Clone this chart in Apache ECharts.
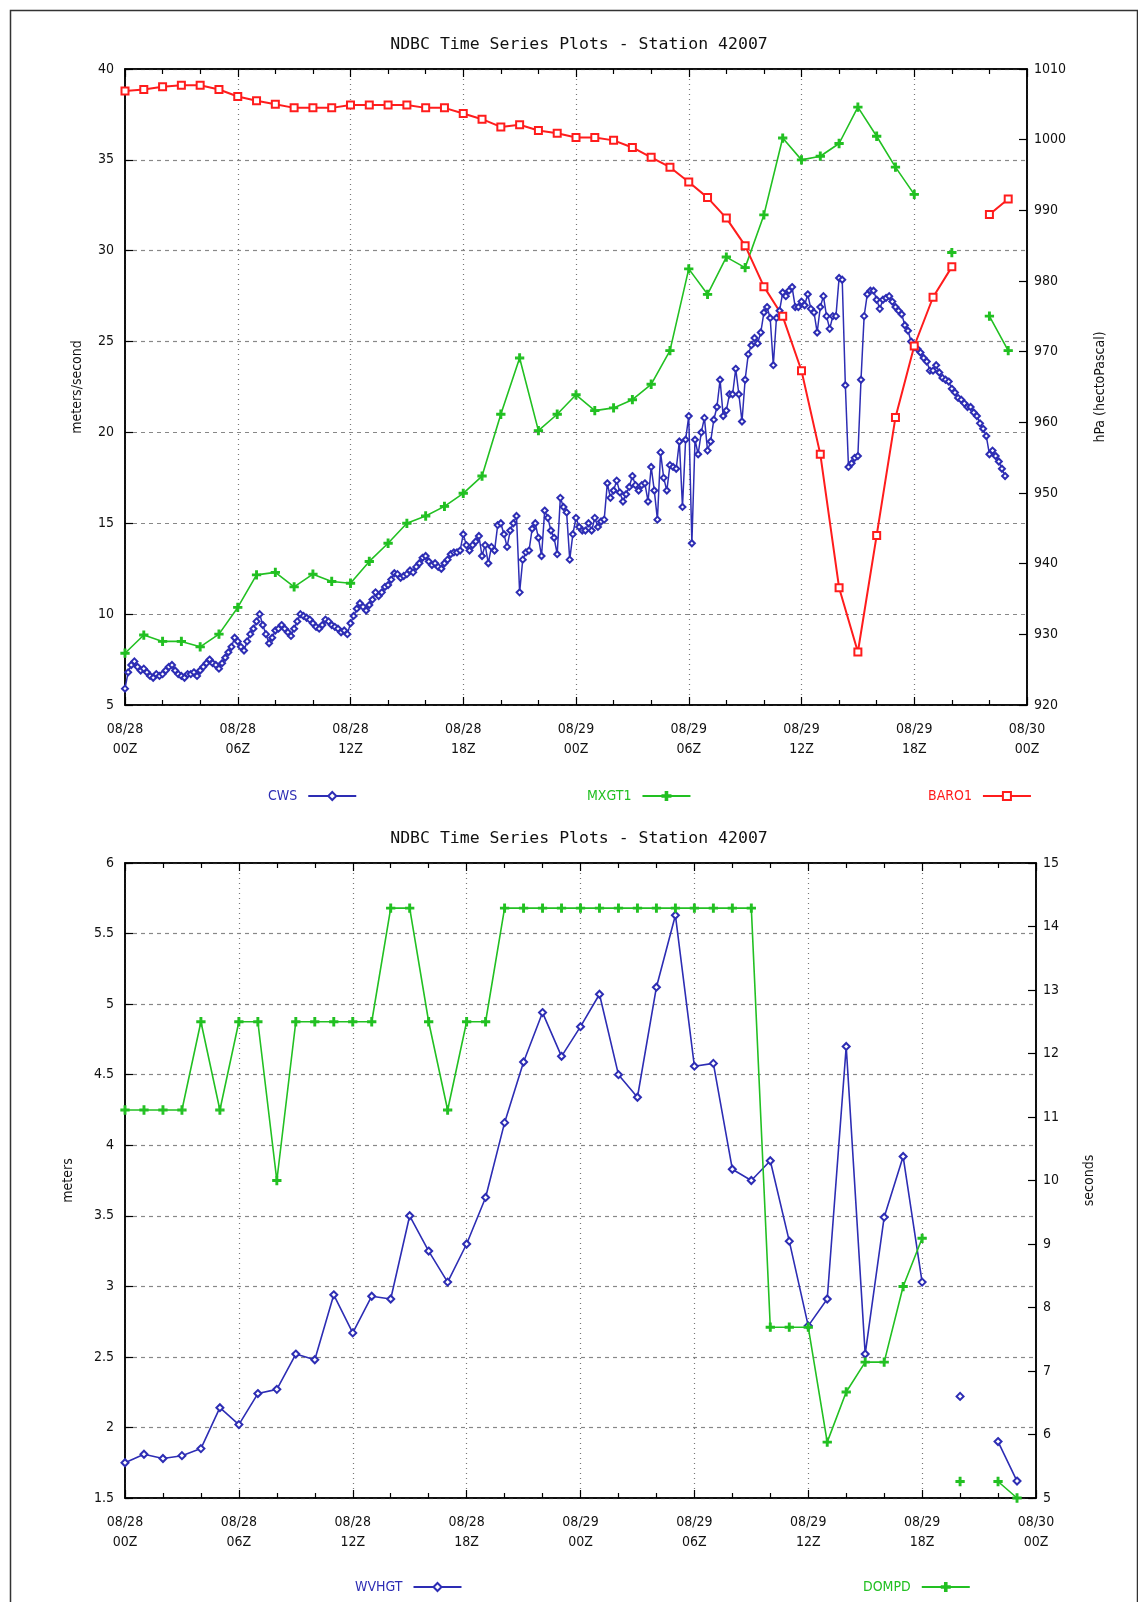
<!DOCTYPE html>
<html><head><meta charset="utf-8">
<script src="https://cdn.jsdelivr.net/npm/echarts@6/dist/echarts.min.js"></script>
<style>html,body{margin:0;padding:0;background:#fff}#c{width:1138px;height:1602px}</style>
</head><body><div id="c"></div>
<script>
// ---------- data ----------
const titleText = 'NDBC Time Series Plots - Station 42007';
const xTickLabels = ['08/28\n00Z','08/28\n06Z','08/28\n12Z','08/28\n18Z','08/29\n00Z','08/29\n06Z','08/29\n12Z','08/29\n18Z','08/30\n00Z'];
// hours since 08/28 00Z
const hourlyTimes = [0,1,2,3,4,5,6,7,8,9,10,11,12,13,14,15,16,17,18,19,20,21,22,23,24,25,26,27,28,29,30,31,32,33,34,35,36,37,38,39,40,41,42,43,44,45,46,47];
const cwsStepHours = 1/6; // 10-minute continuous winds
const cwsValues = [
 5.9,6.8,7.2,7.4,7.1,6.9,  7.0,6.8,6.6,6.5,6.7,6.6,  6.7,6.9,7.1,7.2,6.9,6.7,  6.6,6.5,6.7,6.7,6.8,6.6,
 6.9,7.1,7.3,7.5,7.3,7.2,  7.0,7.3,7.6,7.9,8.2,8.7,  8.5,8.2,8.0,8.5,8.9,9.2,  9.6,10.0,9.4,8.9,8.4,8.7,
 9.1,9.2,9.4,9.2,9.0,8.8,  9.2,9.6,10.0,9.9,9.8,9.7,  9.5,9.3,9.2,9.4,9.7,9.6,  9.4,9.3,9.2,9.0,9.1,8.9,
 9.5,9.9,10.3,10.6,10.4,10.2,  10.5,10.8,11.2,11.0,11.2,11.5,  11.6,11.9,12.25,12.2,12.0,12.1,  12.2,12.4,12.3,12.6,12.8,13.1,
 13.2,12.9,12.7,12.8,12.6,12.5,  12.8,13.0,13.3,13.4,13.4,13.5,  14.4,13.8,13.5,13.8,14.0,14.3,  13.2,13.8,12.8,13.7,13.5,14.9,
 15.0,14.4,13.7,14.6,15.0,15.4,  11.2,13.0,13.4,13.5,14.7,15.0,  14.2,13.2,15.7,15.3,14.6,14.2,  13.3,16.4,15.9,15.6,13.0,14.4,
 15.3,14.8,14.6,14.6,15.0,14.6,  15.3,14.8,15.1,15.2,17.2,16.4,  16.8,17.35,16.7,16.2,16.6,17.0,  17.6,17.1,16.8,17.1,17.2,16.2,
 18.1,16.8,15.2,18.9,17.5,16.8,  18.2,18.1,18.0,19.5,15.9,19.6,  20.9,13.9,19.6,18.8,20.0,20.8,  19.0,19.5,20.7,21.4,22.9,20.9,
 21.2,22.1,22.1,23.5,22.1,20.6,  22.9,24.3,24.8,25.2,24.9,25.5,  26.6,26.9,26.3,23.7,26.3,26.7,  27.7,27.5,27.8,28.0,26.9,26.9,
 27.2,27.0,27.6,26.8,26.6,25.5,  26.9,27.5,26.4,25.7,26.4,26.4,  28.5,28.4,22.6,18.1,18.3,18.6,  18.7,22.9,26.4,27.6,27.8,27.8,
 27.3,26.8,27.3,27.4,27.5,27.2,  26.9,26.7,26.5,25.9,25.6,25.0,  24.7,24.6,24.4,24.1,23.9,23.4,  23.4,23.7,23.3,23.0,22.9,22.8,
 22.4,22.2,21.9,21.8,21.6,21.4,  21.4,21.1,20.9,20.5,20.2,19.8,  18.8,19.0,18.7,18.4,18.0,17.6
];
const mxgt1Values = [7.85,8.85,8.5,8.5,8.2,8.9,10.37,12.16,12.3,11.5,12.2,11.8,11.7,12.9,13.9,15.0,15.4,15.93,16.65,17.6,21.0,24.1,20.1,21.0,22.07,21.2,21.35,21.8,22.65,24.5,29.0,27.6,29.65,29.07,31.97,36.2,35.0,35.2,35.9,37.9,36.3,34.6,33.1,null,29.9,null,26.4,24.5];
const baro1Values = [1006.9,1007.1,1007.5,1007.7,1007.7,1007.1,1006.1,1005.5,1005.0,1004.5,1004.5,1004.5,1004.9,1004.9,1004.9,1004.9,1004.5,1004.5,1003.7,1002.9,1001.8,1002.1,1001.3,1000.9,1000.3,1000.3,999.9,998.9,997.5,996.1,994.0,991.8,988.9,985.0,979.2,975.0,967.3,955.5,936.6,927.5,944.0,960.7,970.8,977.7,982.0,null,989.4,991.6];
const wvhgtValues = [1.75,1.81,1.78,1.80,1.85,2.14,2.02,2.24,2.27,2.52,2.48,2.94,2.67,2.93,2.91,3.50,3.25,3.03,3.30,3.63,4.16,4.59,4.94,4.63,4.84,5.07,4.50,4.34,5.12,5.63,4.56,4.58,3.83,3.75,3.89,3.32,2.72,2.91,4.70,2.52,3.49,3.92,3.03,null,2.22,null,1.90,1.62];
const dompdValues = [11.11,11.11,11.11,11.11,12.5,11.11,12.5,12.5,10.0,12.5,12.5,12.5,12.5,12.5,14.29,14.29,12.5,11.11,12.5,12.5,14.29,14.29,14.29,14.29,14.29,14.29,14.29,14.29,14.29,14.29,14.29,14.29,14.29,14.29,7.69,7.69,7.69,5.88,6.67,7.14,7.14,8.33,9.09,null,5.26,null,5.26,5.0];

// ---------- styling ----------
const BLUE = '#2d2db4', GREEN = '#22c022', RED = '#ff1c1c';
const FONT = "'DejaVu Sans Condensed','Liberation Sans Narrow','DejaVu Sans',sans-serif";
const PLUS = 'path://M4,0L6,0L6,4L10,4L10,6L6,6L6,10L4,10L4,6L0,6L0,4L4,4Z';

const pairs = (times, vals) => vals.map((v, i) => [times[i], v === null ? '-' : v]);
const cwsData = cwsValues.map((v, i) => [i * cwsStepHours, v]);

function xAxes(gridIndex) {
  const common = {
    type: 'value', gridIndex, min: 0, max: 48, interval: 6,
    axisLine: {show: true, onZero: false, lineStyle: {color: '#000', width: 1.5}},
    axisTick: {show: true, inside: true, length: 8, lineStyle: {color: '#000', width: 1.2}},
    minorTick: {show: true, splitNumber: 3, length: 5, lineStyle: {color: '#000', width: 1.2}}
  };
  return [
    Object.assign({}, common, {
      position: 'bottom',
      axisLabel: {show: true, margin: 14, fontFamily: FONT, fontSize: 14, lineHeight: 20, color: '#111',
        formatter: v => xTickLabels[Math.round(v / 6)]},
      splitLine: {show: true, lineStyle: {type: [1, 4], color: '#777', width: 1.2}}
    }),
    Object.assign({}, common, {
      position: 'top', axisLabel: {show: false}, splitLine: {show: false}
    })
  ];
}
function yAxis(gridIndex, pos, min, max, interval, name, nameGap, split, margin) {
  return {
    type: 'value', gridIndex, position: pos, min, max, interval,
    name, nameLocation: 'middle', nameGap, nameRotate: 90,
    nameTextStyle: {fontFamily: FONT, fontSize: 14, color: '#111'},
    axisLine: {show: true, onZero: false, lineStyle: {color: '#000', width: 1.5}},
    axisTick: {show: true, inside: true, length: 8, lineStyle: {color: '#000', width: 1.2}},
    axisLabel: {show: true, margin, fontFamily: FONT, fontSize: 14, color: '#111', formatter: v => String(v)},
    splitLine: {show: split, lineStyle: {type: [4, 4], color: '#888', width: 1.2}}
  };
}
function lineSeries(name, data, xi, yi, color, symbol, size, width) {
  return {
    name, type: 'line', data, xAxisIndex: xi, yAxisIndex: yi,
    symbol, symbolSize: size, showSymbol: true, connectNulls: false,
    lineStyle: {color, width},
    itemStyle: {color, borderColor: color, borderWidth: 1.3},
    emphasis: {disabled: true}, animation: false
  };
}
function legend(name, color, left, top) {
  return {
    data: [{name, textStyle: {color}}], left, top, align: 'right', orient: 'horizontal',
    itemWidth: 48, itemHeight: 10, selectedMode: false,
    textStyle: {fontFamily: FONT, fontSize: 14, color, padding: [0, 6, 0, 0]}
  };
}

const option = {
  backgroundColor: '#fff',
  animation: false,
  textStyle: {fontFamily: FONT},
  title: [
    {text: titleText, left: 574, top: 31, textAlign: 'center',
     textStyle: {fontFamily: "'DejaVu Sans Mono',monospace", fontSize: 16.5, fontWeight: 'normal', color: '#111'}},
    {text: titleText, left: 574, top: 825, textAlign: 'center',
     textStyle: {fontFamily: "'DejaVu Sans Mono',monospace", fontSize: 16.5, fontWeight: 'normal', color: '#111'}}
  ],
  grid: [
    {left: 125, top: 69, width: 902, height: 636, show: true, borderColor: '#000', borderWidth: 1.5, backgroundColor: '#fff'},
    {left: 125, top: 863, width: 911, height: 635, show: true, borderColor: '#000', borderWidth: 1.5, backgroundColor: '#fff'}
  ],
  xAxis: [...xAxes(0), ...xAxes(1)],
  yAxis: [
    yAxis(0, 'left', 5, 40, 5, 'meters/second', 41, true, 11),
    yAxis(0, 'right', 920, 1010, 10, 'hPa (hectoPascal)', 66, false, 7),
    yAxis(1, 'left', 1.5, 6, 0.5, 'meters', 50, true, 11),
    yAxis(1, 'right', 5, 15, 1, 'seconds', 46, false, 7)
  ],
  legend: [
    legend('CWS', BLUE, 263, 784),
    legend('MXGT1', GREEN, 582, 784),
    legend('BARO1', RED, 923, 784),
    legend('WVHGT', BLUE, 350, 1575),
    legend('DOMPD', GREEN, 858, 1575)
  ],
  series: [
    lineSeries('CWS', cwsData, 0, 0, BLUE, 'emptyDiamond', 6, 1.5),
    lineSeries('MXGT1', pairs(hourlyTimes, mxgt1Values), 0, 0, GREEN, PLUS, 8, 1.6),
    lineSeries('BARO1', pairs(hourlyTimes, baro1Values), 0, 1, RED, 'emptyRect', 7, 2),
    lineSeries('WVHGT', pairs(hourlyTimes, wvhgtValues), 2, 2, BLUE, 'emptyDiamond', 7, 1.6),
    lineSeries('DOMPD', pairs(hourlyTimes, dompdValues), 2, 3, GREEN, PLUS, 8, 1.6)
  ],
  graphic: [
    {type: 'rect', left: 8, top: 8, z: -10, silent: true,
     shape: {width: 1127, height: 1600}, style: {fill: 'none', stroke: '#333', lineWidth: 1.5}}
  ]
};
const chart = echarts.init(document.getElementById('c'), null, {renderer: 'canvas'});
chart.setOption(option);
</script>
</body></html>
